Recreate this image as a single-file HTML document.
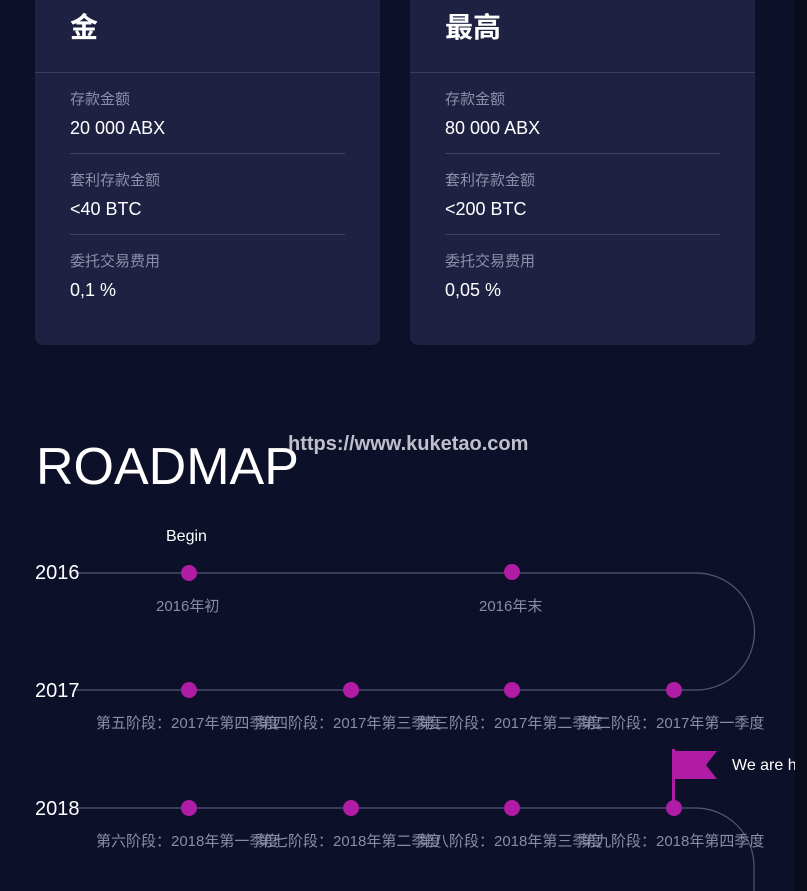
<!DOCTYPE html>
<html><head><meta charset="utf-8"><style>
body{margin:0;width:807px;height:891px;overflow:hidden;background:#0d1029;font-family:"Liberation Sans","Noto Sans CJK SC",sans-serif;position:relative}
.a{position:absolute;white-space:nowrap}
.card{position:absolute;top:-10px;width:345px;height:355px;background:#1f2142;border-radius:8px}
.hd{position:absolute;left:0;right:0;top:82px;border-top:1px solid #3a3c5e}
.sep{position:absolute;left:35px;width:275px;border-top:1px solid #3e4062}
.lb{position:absolute;left:35px;color:#8c8eaa;font-size:15px}
.v{position:absolute;left:35px;color:#fff;font-size:18px}
.t{color:#8a8ca8;font-size:15px}
</style></head><body>
<div class="card" style="left:35px">
<div class="a" style="left:35px;top:16px;color:#fff;font-size:28px;font-weight:bold">金</div>
<div class="hd"></div>
<div class="lb" style="top:98px">存款金额</div><div class="v" style="top:128px">20 000 ABX</div>
<div class="sep" style="top:163px"></div>
<div class="lb" style="top:179px">套利存款金额</div><div class="v" style="top:209px">&lt;40 BTC</div>
<div class="sep" style="top:244px"></div>
<div class="lb" style="top:260px">委托交易费用</div><div class="v" style="top:290px">0,1 %</div>
</div>
<div class="card" style="left:410px">
<div class="a" style="left:35px;top:16px;color:#fff;font-size:28px;font-weight:bold">最高</div>
<div class="hd"></div>
<div class="lb" style="top:98px">存款金额</div><div class="v" style="top:128px">80 000 ABX</div>
<div class="sep" style="top:163px"></div>
<div class="lb" style="top:179px">套利存款金额</div><div class="v" style="top:209px">&lt;200 BTC</div>
<div class="sep" style="top:244px"></div>
<div class="lb" style="top:260px">委托交易费用</div><div class="v" style="top:290px">0,05 %</div>
</div>
<div class="a" style="left:36px;top:437px;color:#fff;font-size:52px">ROADMAP</div>
<div class="a" style="left:288px;top:433px;color:#c0c0cc;font-size:20px;font-weight:bold">https://www.kuketao.com</div>
<svg class="a" style="left:0;top:0" width="807" height="891">
<g fill="none" stroke="#55577a" stroke-width="1.2">
<path d="M75 573H696A58.5 58.5 0 0 1 696 690H75"/>
<path d="M75 808H696A58.5 58.5 0 0 1 754 866V891"/>
</g>
<g fill="#b01ca4">
<circle cx="189" cy="573" r="8"/><circle cx="512" cy="572" r="8"/>
<circle cx="189" cy="690" r="8"/><circle cx="351" cy="690" r="8"/><circle cx="512" cy="690" r="8"/><circle cx="674" cy="690" r="8"/>
<circle cx="189" cy="808" r="8"/><circle cx="351" cy="808" r="8"/><circle cx="512" cy="808" r="8"/><circle cx="674" cy="808" r="8"/>
<rect x="672" y="749" width="3" height="59"/>
<path d="M675 751H717L706 765L717 779H675Z"/>
</g>
</svg>
<div class="a" style="left:35px;top:562px;color:#fff;font-size:20px">2016</div>
<div class="a" style="left:35px;top:680px;color:#fff;font-size:20px">2017</div>
<div class="a" style="left:35px;top:798px;color:#fff;font-size:20px">2018</div>
<div class="a" style="left:166px;top:528px;color:#fff;font-size:16px">Begin</div>
<div class="a" style="left:732px;top:757px;color:#fff;font-size:16px">We are here</div>
<div class="a t" style="left:156px;top:595px">2016年初</div>
<div class="a t" style="left:479px;top:595px">2016年末</div>
<div class="a t" style="left:96px;top:712px">第五阶段：2017年第四季度</div>
<div class="a t" style="left:258px;top:712px">第四阶段：2017年第三季度</div>
<div class="a t" style="left:419px;top:712px">第三阶段：2017年第二季度</div>
<div class="a t" style="left:581px;top:712px">第二阶段：2017年第一季度</div>
<div class="a t" style="left:96px;top:830px">第六阶段：2018年第一季度</div>
<div class="a t" style="left:258px;top:830px">第七阶段：2018年第二季度</div>
<div class="a t" style="left:419px;top:830px">第八阶段：2018年第三季度</div>
<div class="a t" style="left:581px;top:830px">第九阶段：2018年第四季度</div>
<div class="a" style="left:795px;top:0;width:12px;height:891px;background:#0a0c1c;z-index:5"></div>
</body></html>
